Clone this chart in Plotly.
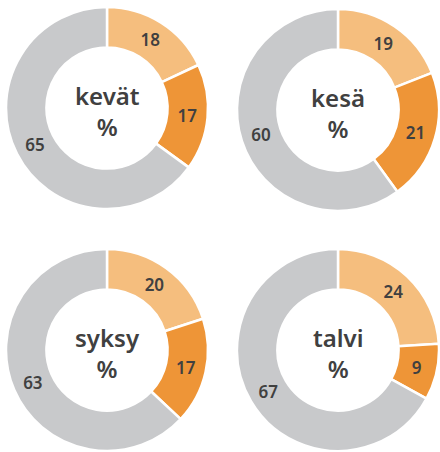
import plotly.graph_objects as go

seasons = ["kevät", "kesä", "syksy", "talvi"]
categories = ["A", "B", "C"]
values = {
    "kevät": [18, 17, 65],
    "kesä": [19, 21, 60],
    "syksy": [20, 17, 63],
    "talvi": [24, 9, 67],
}
colors = ["#F5BE7E", "#EE9537", "#C8C9CB"]

W, H = 440, 452
# centre (px) and radius per donut
centers = {"kevät": (107, 108), "kesä": (338, 110), "syksy": (107, 350), "talvi": (338, 350)}
R = 101

fig = go.Figure()
annotations = []
for s in seasons:
    cx, cy = centers[s]
    x0, x1 = max(0, (cx - R) / W), min(1, (cx + R) / W)
    y0, y1 = max(0, 1 - (cy + R) / H), min(1, 1 - (cy - R) / H)
    fig.add_trace(go.Pie(
        labels=categories, values=values[s], sort=False, direction="clockwise", rotation=0,
        hole=0.6, marker=dict(colors=colors, line=dict(color="white", width=2.5)),
        texttemplate="%{value}", textposition="inside", insidetextorientation="horizontal",
        textfont=dict(family="Noto Sans", size=17, color="#404040", weight=600),
        domain=dict(x=[x0, x1], y=[y0, y1]),
        showlegend=False, hoverinfo="label+value",
    ))
    annotations.append(dict(x=cx / W, y=1 - (cy + 3) / H, xref="paper", yref="paper",
                            xanchor="center", yanchor="middle",
                            text=f"{s}<br>%", showarrow=False,
                            font=dict(family="Noto Sans", size=24, color="#404040", weight=600)))

fig.update_layout(width=W, height=H, margin=dict(l=0, r=0, t=0, b=0),
                  paper_bgcolor="white", plot_bgcolor="white", annotations=annotations)
fig.write_html("out.html", config={"displayModeBar": False},
               post_script="document.body.style.margin='0';")
